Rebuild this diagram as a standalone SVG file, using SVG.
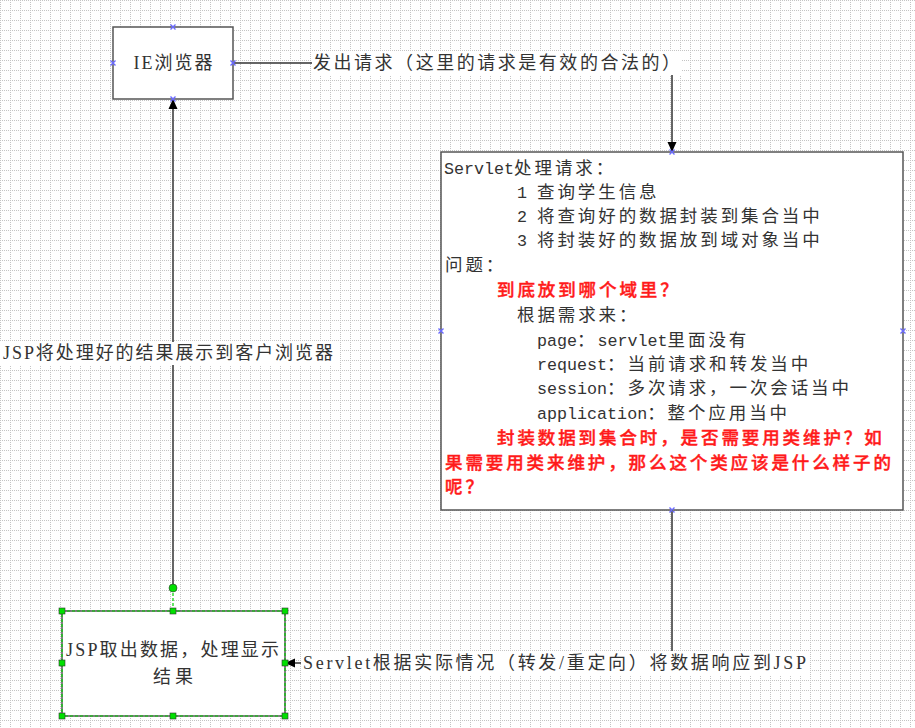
<svg xmlns="http://www.w3.org/2000/svg" width="915" height="728" viewBox="0 0 915 728">
<style>
.t{font-family:"Noto Sans CJK SC",sans-serif;font-size:17.5px;letter-spacing:2.9px;fill:#333}
.m{font-family:"Liberation Mono","Noto Sans CJK SC",monospace;font-size:16.7px;letter-spacing:0}
.r{fill:#ff1a1a;font-weight:500;stroke:#ff1a1a;stroke-width:0.4}
.lbl{font-family:"Liberation Serif","Noto Sans CJK SC",serif;font-size:18px;fill:#333}
.box{fill:#fff;stroke:#555;stroke-width:1.5}
.line{fill:none;stroke:#333;stroke-width:1.5}
.mk{stroke:#6a6aff;stroke-width:1.4}
.h{fill:#00e000;stroke:#333;stroke-width:0.6}
</style>
<defs>
<pattern id="grid" width="10" height="10" patternUnits="userSpaceOnUse">
<path d="M0 0.5H10M0.5 0V10" stroke="#c4c4c4" stroke-width="1" stroke-dasharray="1 1" fill="none"/>
</pattern>
<marker id="arr" markerWidth="10" markerHeight="10" refX="9" refY="5" orient="auto" markerUnits="userSpaceOnUse">
<path d="M0 0.5L10 5L0 9.5Z" fill="#000"/>
</marker>
</defs>
<rect width="915" height="728" fill="#fff"/>
<rect width="915" height="728" fill="url(#grid)"/>

<g id="connectors">
<path class="line" d="M233 63H672V151" marker-end="url(#arr)"/>
<rect x="312" y="51" width="370" height="24" fill="#fff"/>
<text class="lbl" x="313" y="69" textLength="367" lengthAdjust="spacing">发出请求（这里的请求是有效的合法的）</text>

<path class="line" d="M173 588V100" marker-end="url(#arr)"/>
<rect x="0" y="342" width="340" height="23" fill="#fff"/>
<text class="lbl" x="3" y="359" textLength="330" lengthAdjust="spacing">JSP将处理好的结果展示到客户浏览器</text>

<path class="line" d="M672 510V663H286" marker-end="url(#arr)"/>
<rect x="301" y="651" width="508" height="24" fill="#fff"/>
<text class="lbl" x="303" y="669" textLength="503" lengthAdjust="spacing">Servlet根据实际情况（转发/重定向）将数据响应到JSP</text>
<path d="M173 588V611" stroke="#00d000" stroke-width="1.2" stroke-dasharray="3 2"/>
<circle class="h" cx="173" cy="588" r="4"/>
</g>

<g id="ie">
<rect class="box" x="113" y="27" width="120" height="72"/>
<text class="lbl" x="173" y="69" text-anchor="middle" textLength="79" lengthAdjust="spacing">IE浏览器</text>
<path class="mk" d="M170.5 24.5l5 5M175.5 24.5l-5 5M110.5 60.5l5 5M115.5 60.5l-5 5M230.5 60.5l5 5M235.5 60.5l-5 5M170.5 96.5l5 5M175.5 96.5l-5 5"/>
</g>

<g id="servlet">
<rect class="box" x="441" y="152" width="462" height="358"/>
<path class="mk" d="M669.5 149.5l5 5M674.5 149.5l-5 5M438.5 328.5l5 5M443.5 328.5l-5 5M900.5 328.5l5 5M905.5 328.5l-5 5M669.5 507.5l5 5M674.5 507.5l-5 5"/>
<text class="t" x="444" y="174"><tspan class="m">Servlet</tspan>处理请求：</text>
<text class="t" x="517" y="198"><tspan class="m">1 </tspan>查询学生信息</text>
<text class="t" x="517" y="222"><tspan class="m">2 </tspan>将查询好的数据封装到集合当中</text>
<text class="t" x="517" y="246"><tspan class="m">3 </tspan>将封装好的数据放到域对象当中</text>
<text class="t" x="445" y="271">问题：</text>
<text class="t r" x="497" y="296">到底放到哪个域里？</text>
<text class="t" x="517" y="321">根据需求来：</text>
<text class="t" x="537" y="346"><tspan class="m">page</tspan>：<tspan class="m">servlet</tspan>里面没有</text>
<text class="t" x="537" y="370"><tspan class="m">request</tspan>：当前请求和转发当中</text>
<text class="t" x="537" y="394"><tspan class="m">session</tspan>：多次请求，一次会话当中</text>
<text class="t" x="537" y="419"><tspan class="m">application</tspan>：整个应用当中</text>
<text class="t r" x="497" y="444">封装数据到集合时，是否需要用类维护？如</text>
<text class="t r" x="445" y="469">果需要用类来维护，那么这个类应该是什么样子的</text>
<text class="t r" x="445" y="493">呢？</text>
</g>

<g id="jsp">
<rect class="box" x="62" y="611" width="223" height="105"/>
<rect x="62" y="611" width="223" height="105" fill="none" stroke="#00d000" stroke-width="1.2" stroke-dasharray="3 2"/>
<text class="lbl" x="66" y="656" textLength="213" lengthAdjust="spacing">JSP取出数据，处理显示</text>
<text class="lbl" x="173" y="683" text-anchor="middle" textLength="40" lengthAdjust="spacing">结果</text>
<rect class="h" x="59" y="608" width="6" height="6"/>
<rect class="h" x="170" y="608" width="6" height="6"/>
<rect class="h" x="282" y="608" width="6" height="6"/>
<rect class="h" x="59" y="660" width="6" height="6"/>
<rect class="h" x="282" y="660" width="6" height="6"/>
<rect class="h" x="59" y="713" width="6" height="6"/>
<rect class="h" x="170" y="713" width="6" height="6"/>
<rect class="h" x="282" y="713" width="6" height="6"/>
</g>
</svg>
